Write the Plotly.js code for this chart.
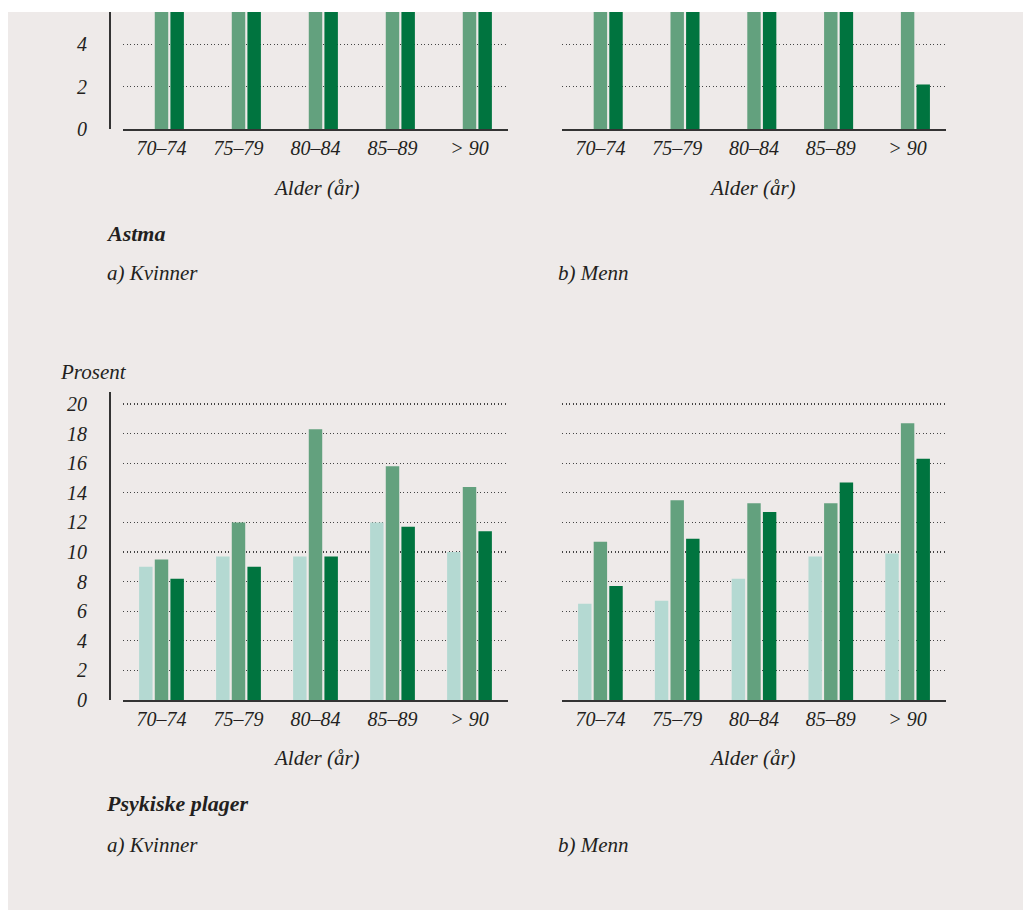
<!DOCTYPE html>
<html>
<head>
<meta charset="utf-8">
<script src="https://cdn.plot.ly/plotly-3.0.1.min.js"></script>
<style>
  html, body { margin: 0; padding: 0; background: #ffffff; }
  #chart { position: absolute; left: 8px; top: 12px; width: 1015px; height: 898px; }
</style>
</head>
<body>
<div id="chart"></div>
<script>
// Age groups on the x axis
const ageGroups = ["70–74", "75–79", "80–84", "85–89", "> 90"];

// Astma (percent) – the upper panel is cut at about 5.5 %
const astmaKvinnerSerie1 = [null, null, null, null, null];
const astmaKvinnerSerie2 = [9.8, 10.4, 9.6, 8.7, 7.9];
const astmaKvinnerSerie3 = [8.9, 9.3, 8.1, 7.6, 6.4];
const astmaMennSerie1 = [null, null, null, null, null];
const astmaMennSerie2 = [8.5, 10.2, 11.6, 10.9, 12.3];
const astmaMennSerie3 = [7.4, 9.1, 9.8, 8.8, 2.1];

// Psykiske plager (percent)
const psykKvinnerSerie1 = [9.0, 9.7, 9.7, 12.0, 10.0];
const psykKvinnerSerie2 = [9.5, 12.0, 18.3, 15.8, 14.4];
const psykKvinnerSerie3 = [8.2, 9.0, 9.7, 11.7, 11.4];
const psykMennSerie1 = [6.5, 6.7, 8.2, 9.7, 9.9];
const psykMennSerie2 = [10.7, 13.5, 13.3, 13.3, 18.7];
const psykMennSerie3 = [7.7, 10.9, 12.7, 14.7, 16.3];

const seriesColors = ["#b4d9d2", "#63a17e", "#00743f"];
const seriesNames = ["Serie 1", "Serie 2", "Serie 3"];

const BG = "#eeeae9";
const INK = "#231f20";
const FONT = "Liberation Serif, serif";

// page-pixel helpers for the 1015 x 898 drawing area
const W = 1015, H = 898, OX = 8, OY = 12;
const fx = p => (p - OX) / W;
const fy = p => 1 - (p - OY) / H;

function barTraces(seriesList, xa, ya) {
  return seriesList.map((vals, i) => ({
    type: "bar",
    x: ageGroups,
    y: vals,
    name: seriesNames[i],
    marker: { color: seriesColors[i] },
    xaxis: xa,
    yaxis: ya,
    showlegend: false,
    hoverinfo: "skip"
  }));
}

const data = [
  ...barTraces([astmaKvinnerSerie1, astmaKvinnerSerie2, astmaKvinnerSerie3], "x", "y"),
  ...barTraces([astmaMennSerie1, astmaMennSerie2, astmaMennSerie3], "x2", "y2"),
  ...barTraces([psykKvinnerSerie1, psykKvinnerSerie2, psykKvinnerSerie3], "x3", "y3"),
  ...barTraces([psykMennSerie1, psykMennSerie2, psykMennSerie3], "x4", "y4")
];

const tickFont = { family: FONT, size: 20, color: INK, style: "italic" };

function xAxis(domain, anchor) {
  return {
    domain: domain,
    anchor: anchor,
    type: "category",
    showline: true,
    linecolor: "#333333",
    linewidth: 2,
    ticks: "",
    showgrid: false,
    zeroline: false,
    tickfont: tickFont,
    ticklabelstandoff: 0,
    fixedrange: true
  };
}

function yAxis(domain, range, dtick, withLine, anchorX) {
  const ax = {
    domain: domain,
    range: range,
    dtick: dtick,
    tick0: 0,
    showgrid: true,
    gridcolor: "#444444",
    gridwidth: 1.3,
    griddash: "1.3px,2.2px",
    zeroline: false,
    ticks: "",
    fixedrange: true,
    tickfont: tickFont
  };
  if (withLine) {
    ax.anchor = "free";
    ax.position = fx(110);
    ax.showline = true;
    ax.linecolor = "#333333";
    ax.linewidth = 2;
    ax.showticklabels = true;
    ax.ticklabelstandoff = 18;
  } else {
    ax.anchor = anchorX;
    ax.showline = false;
    ax.showticklabels = false;
  }
  return ax;
}

const leftX = [fx(123), fx(508)];
const rightX = [fx(562), fx(946)];
const topY = [fy(129), 1];
const botY = [fy(700), fy(392)];

const ann = (text, x, y, opts) => Object.assign({
  text: text,
  xref: "paper", yref: "paper",
  x: fx(x), y: fy(y),
  xanchor: "left", yanchor: "middle",
  showarrow: false,
  font: { family: FONT, size: 21, color: INK, style: "italic" }
}, opts || {});

const boldFont = { family: FONT, size: 22, color: INK, style: "italic", weight: "bold" };

const layout = {
  width: W,
  height: H,
  margin: { l: 0, r: 0, t: 0, b: 0, pad: 0 },
  paper_bgcolor: BG,
  plot_bgcolor: "rgba(0,0,0,0)",
  barmode: "group",
  bargap: 0.39,
  bargroupgap: 0.14,
  hovermode: false,
  xaxis: xAxis(leftX, "y"),
  yaxis: yAxis(topY, [0, 117 / 21.2], 2, true),
  xaxis2: xAxis(rightX, "y2"),
  yaxis2: yAxis(topY, [0, 117 / 21.2], 2, false, "x2"),
  xaxis3: xAxis(leftX, "y3"),
  yaxis3: yAxis(botY, [0, 308 / 14.8], 2, true),
  xaxis4: xAxis(rightX, "y4"),
  yaxis4: yAxis(botY, [0, 308 / 14.8], 2, false, "x4"),
  annotations: [
    ann("Alder (år)", 316, 188, { xanchor: "center" }),
    ann("Alder (år)", 752, 188, { xanchor: "center" }),
    ann("<b>Astma</b>", 104, 233, { font: boldFont }),
    ann("a) Kvinner", 105, 273),
    ann("b) Menn", 556, 273),
    ann("Prosent", 58, 372),
    ann("Alder (år)", 316, 758, { xanchor: "center" }),
    ann("Alder (år)", 752, 758, { xanchor: "center" }),
    ann("<b>Psykiske plager</b>", 104, 803, { font: boldFont }),
    ann("a) Kvinner", 105, 845),
    ann("b) Menn", 556, 845)
  ]
};

Plotly.newPlot("chart", data, layout, { staticPlot: true, displayModeBar: false });
</script>
</body>
</html>
